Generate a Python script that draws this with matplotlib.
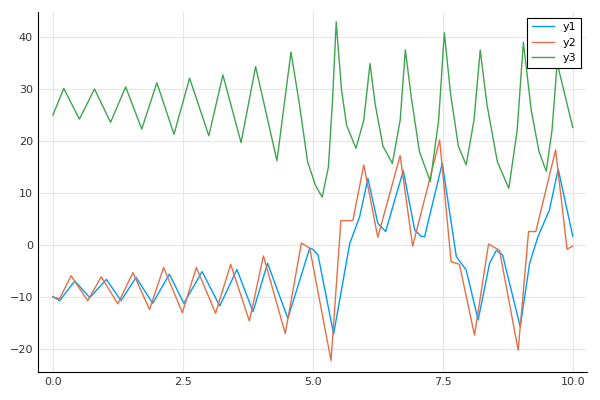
import matplotlib
matplotlib.use("Agg")
import matplotlib.pyplot as plt

t1 = [0, .13, .42, .71, 1.03, 1.31, 1.60, 1.92, 2.24, 2.52, 2.87, 3.21, 3.54, 3.85, 4.13, 4.52, 4.94, 5.0, 5.1, 5.40, 5.71, 5.9, 6.06, 6.25, 6.40, 6.74, 6.96, 7.08, 7.15, 7.49, 7.76, 7.95, 8.18, 8.40, 8.53, 8.65, 8.99, 9.17, 9.33, 9.55, 9.72, 10]
y1 = [-9.9, -10.7, -6.9, -10.1, -6.6, -10.7, -6.2, -11.2, -5.6, -11.2, -5.1, -11.7, -4.7, -12.8, -3.5, -14.1, -0.6, -0.8, -1.9, -17.1, 0.3, 5.4, 12.8, 4.2, 2.6, 14.3, 2.9, 1.7, 1.6, 15.7, -2.2, -4.8, -14.4, -3.5, -1.0, -1.9, -15.7, -3.5, 1.6, 6.7, 14.6, 1.7]

t2 = [0, .13, .35, .67, .93, 1.25, 1.54, 1.86, 2.13, 2.49, 2.76, 3.13, 3.42, 3.78, 4.05, 4.47, 4.78, 4.94, 5.35, 5.54, 5.77, 5.98, 6.25, 6.68, 6.92, 7.44, 7.66, 7.82, 8.11, 8.38, 8.59, 8.95, 9.15, 9.29, 9.67, 9.89, 10]
y2 = [-10, -10.3, -5.9, -10.7, -6.1, -11.3, -5.3, -12.4, -4.3, -13.0, -4.3, -13.1, -3.7, -14.6, -2.1, -17.0, 0.4, -0.6, -22.2, 4.7, 4.7, 15.4, 1.5, 17.2, -0.2, 20.2, -3.2, -3.7, -17.3, 0.2, -1.0, -20.2, 2.6, 2.6, 18.3, -0.8, -0.2]

t3 = [0, .21, .51, .80, 1.11, 1.40, 1.71, 2.0, 2.33, 2.63, 3.0, 3.27, 3.62, 3.90, 4.31, 4.58, 4.74, 4.9, 5.05, 5.18,
      5.3, 5.38, 5.45, 5.55, 5.65, 5.83, 5.98, 6.10, 6.2, 6.35, 6.53, 6.68, 6.78, 6.9, 7.05, 7.26, 7.42, 7.53, 7.65, 7.8,
      7.95, 8.1, 8.22, 8.35, 8.55, 8.77, 8.93, 9.05, 9.2, 9.35, 9.49, 9.6, 9.70, 10]
y3 = [25, 30.1, 24.2, 30.0, 23.6, 30.4, 22.3, 31.2, 21.3, 32.1, 21.0, 32.7, 19.7, 34.3, 16.2, 37.1, 27.2, 16, 11.5, 9.2,
      15, 28, 42.9, 30, 23, 18.6, 24, 34.9, 27, 19, 15.7, 24, 37.5, 28, 18, 12.2, 24, 40.8, 29, 19,
      15.4, 24, 37.5, 27, 16, 10.9, 22, 39.0, 26, 18, 14.2, 22, 35.0, 22.6]

xticks = [0, 2.5, 5, 7.5, 10]
xticklabels = ["0.0", "2.5", "5.0", "7.5", "10.0"]
yticks = [-20, -10, 0, 10, 20, 30, 40]

fig = plt.figure(figsize=(6, 4), dpi=100)
ax = fig.add_axes([0.063, 0.07, 0.915, 0.90])
ax.plot(t1, y1, color="#009AFA", lw=1.0, label="y1")
ax.plot(t2, y2, color="#E36F47", lw=1.0, label="y2")
ax.plot(t3, y3, color="#3EA44E", lw=1.0, label="y3")
ax.set_xlim(-0.29, 10.27)
ax.set_ylim(-24.4, 44.8)
ax.set_xticks(xticks)
ax.set_xticklabels(xticklabels)
ax.set_yticks(yticks)
ax.grid(True, color="#e6e6e6", lw=0.8)
ax.set_axisbelow(True)
for s in ["top", "right"]:
    ax.spines[s].set_visible(False)
ax.tick_params(labelsize=8, length=0, colors="#333333")
leg = ax.legend(loc="upper right", fontsize=8, fancybox=False, edgecolor="black", framealpha=1)
leg.get_frame().set_linewidth(0.8)
fig.savefig("out.png", dpi=100)
